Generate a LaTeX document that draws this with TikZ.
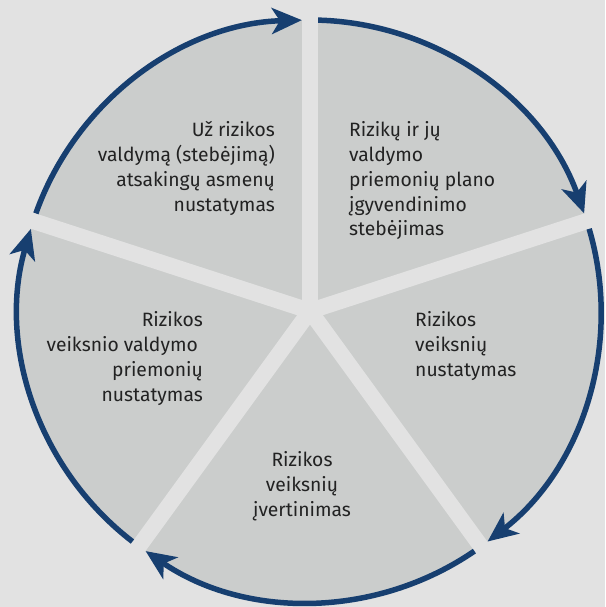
\documentclass[tikz,border=0pt]{standalone}
\usepackage{fontspec}
\setmainfont{Fira Sans}
\usetikzlibrary{arrows.meta,calc}
\definecolor{bg}{HTML}{E2E2E2}
\definecolor{sect}{HTML}{CBCDCC}
\definecolor{arcblue}{HTML}{173F70}
\definecolor{txt}{HTML}{222222}
\begin{document}
\begin{tikzpicture}[x=1pt,y=1pt,
  lbl/.style={font=\fontsize{19.3}{24}\selectfont, text=txt, inner sep=0pt},
  cyc/.style={draw=arcblue, line width=5.5pt, -{Stealth[length=30pt,width=26pt,inset=8pt]}},
  gapband/.style={draw=bg, line width=16pt}]
\fill[bg] (0,0) rectangle (605,607);
\useasboundingbox (0,0) rectangle (605,607);
\coordinate (c) at (310,296);
\fill[sect] (c) circle[radius=291];
\foreach \a in {90,18,-54,-126,162} \draw[gapband] (c) -- ++(\a:300);
\foreach \s/\e in {162/90, 90/18, 18/-54, -54/-126, -126/-198}
  \draw[cyc] ($(c)+(\s-1.6:291)$) arc[start angle=\s-1.6, end angle=\e+1.6, radius=291];
% top left
\node[lbl, anchor=base east] (tl1) at (275,470) {Už rizikos};
\node[lbl, anchor=base east] (tl2) at (275,445.3) {valdymą (stebėjimą)};
\node[lbl, anchor=base east] (tl3) at (275,420.6) {atsakingų asmenų};
\node[lbl, anchor=base east] (tl4) at (275,395.9) {nustatymas};
% top right
\node[lbl, anchor=base west] (tr1) at (349,470) {Rizikų ir jų};
\node[lbl, anchor=base west] (tr2) at (349,445.3) {valdymo};
\node[lbl, anchor=base west] (tr3) at (349,420.6) {priemonių plano};
\node[lbl, anchor=base west] (tr4) at (349,395.9) {įgyvendinimo};
\node[lbl, anchor=base west] (tr5) at (349,371.2) {stebėjimas};
% right
\node[lbl, anchor=base west] (r1) at (415,280) {Rizikos};
\node[lbl, anchor=base west] (r2) at (415,255.3) {veiksnių};
\node[lbl, anchor=base west] (r3) at (415,230.6) {nustatymas};
% left
\node[lbl, anchor=base east] (l1) at (203,280) {Rizikos};
\node[lbl, anchor=base east] (l2) at (198,255.3) {veiksnio valdymo};
\node[lbl, anchor=base east] (l3) at (203,230.6) {priemonių};
\node[lbl, anchor=base east] (l4) at (203,205.9) {nustatymas};
% bottom
\node[lbl, anchor=base] (b1) at (302,140) {Rizikos};
\node[lbl, anchor=base] (b2) at (302,115.3) {veiksnių};
\node[lbl, anchor=base] (b3) at (302,90.6) {įvertinimas};
\end{tikzpicture}
\end{document}
